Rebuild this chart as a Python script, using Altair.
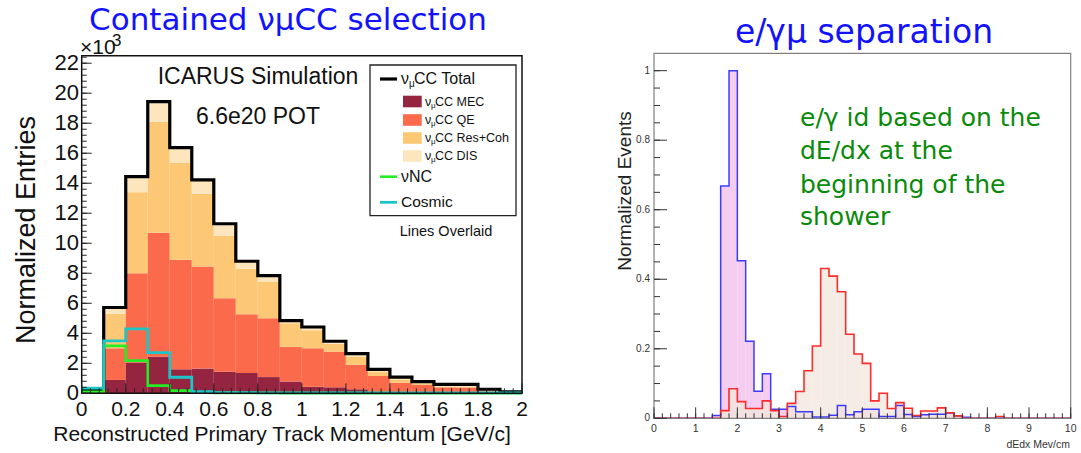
import altair as alt
import pandas as pd

# ---------------- data: left panel (x10^3 entries per 0.1 GeV/c bin) ----------------
p_lo = [0.0, 0.1, 0.2, 0.3, 0.4, 0.5, 0.6, 0.7, 0.8, 0.9,
        1.0, 1.1, 1.2, 1.3, 1.4, 1.5, 1.6, 1.7, 1.8, 1.9]
p_width = 0.1
mec = [0.05, 0.89, 2.05, 2.44, 1.60, 1.65, 1.44, 1.35, 1.08, 0.78,
       0.44, 0.40, 0.27, 0.05, 0.03, 0.02, 0.02, 0.01, 0.01, 0.00]
qe = [0.10, 2.11, 5.95, 8.26, 7.30, 6.80, 4.89, 3.92, 3.92, 2.33,
      2.56, 2.38, 1.63, 1.10, 0.67, 0.54, 0.38, 0.37, 0.12, 0.04]
res = [0.05, 2.30, 5.40, 7.40, 6.45, 4.85, 4.17, 3.03, 2.45, 1.56,
       1.20, 0.52, 0.55, 0.27, 0.22, 0.11, 0.05, 0.07, 0.07, 0.02]
dis = [0.05, 0.42, 1.04, 1.34, 1.03, 0.92, 0.80, 0.50, 0.39, 0.18,
       0.22, 0.17, 0.20, 0.18, 0.16, 0.11, 0.15, 0.15, 0.07, 0.03]
vnc = [0.10, 3.16, 2.18, 0.51, 0.18, 0.05, 0.03, 0.02, 0.02, 0.01,
       0.01, 0.01, 0.01, 0.01, 0.00, 0.00, 0.00, 0.00, 0.00, 0.00]
cosmic = [0.35, 3.49, 4.30, 2.71, 1.07, 0.11, 0.05, 0.04, 0.03, 0.03,
          0.03, 0.03, 0.03, 0.03, 0.03, 0.03, 0.03, 0.03, 0.03, 0.03]
comp_names = ["MEC", "QE", "Res+Coh", "DIS"]
comp_colors = ["#94243f", "#fb6b4b", "#fcc875", "#fde6bd"]

left_y_ticks = [0, 2, 4, 6, 8, 10, 12, 14, 16, 18, 20, 22]
left_y_labels = ["0", "2", "4", "6", "8", "10", "12", "14", "16", "18", "20", "22"]
left_x_ticks = [0, 0.2, 0.4, 0.6, 0.8, 1.0, 1.2, 1.4, 1.6, 1.8, 2.0]
left_x_labels = ["0", "0.2", "0.4", "0.6", "0.8", "1", "1.2", "1.4", "1.6", "1.8", "2"]

# ---------------- data: right panel (normalized events per 0.2 MeV/cm bin) ----------------
d_lo = [round(0.2 * i, 1) for i in range(50)]
d_width = 0.2
blue = [0, 0, 0, 0, 0, 0, 0, 0.008, 0.668, 1.0,
        0.453, 0.222, 0.078, 0.128, 0.026, 0.026, 0.034, 0.019, 0.019, 0.004,
        0.004, 0.009, 0.037, 0.010, 0.019, 0.026, 0.026, 0.005, 0.005, 0.037,
        0.011, 0.005, 0.010, 0.012, 0.012, 0.015, 0.007, 0.003, 0, 0,
        0, 0, 0, 0, 0, 0, 0, 0, 0, 0]
red = [0, 0, 0, 0, 0, 0, 0, 0, 0.022, 0.085,
       0.048, 0.028, 0.028, 0.050, 0.022, 0.005, 0.043, 0.077, 0.137, 0.208,
       0.431, 0.409, 0.364, 0.242, 0.185, 0.158, 0.050, 0.072, 0.028, 0.045,
       0.029, 0.008, 0.021, 0.021, 0.030, 0.016, 0.007, 0, 0, 0,
       0, 0.005, 0, 0, 0, 0, 0, 0, 0, 0]
right_y_ticks = [0, 0.2, 0.4, 0.6, 0.8, 1.0]
right_y_labels = ["0", "0.2", "0.4", "0.6", "0.8", "1"]
right_x_ticks = [0, 1, 2, 3, 4, 5, 6, 7, 8, 9, 10]
right_x_labels = ["0", "1", "2", "3", "4", "5", "6", "7", "8", "9", "10"]

# ---------------- layout (pixels) ----------------
LX0, LX1, LYB, LYT = 81.7, 522.0, 393.3, 55.7
RX0, RX1, RYB, RYT = 654.0, 1070.7, 418.3, 53.3
HELV = "Liberation Sans"
COMIC = "DejaVu Sans"

lxs = alt.Scale(domain=[0, 2], range=[LX0, LX1], nice=False, zero=False)
lys = alt.Scale(domain=[0, 22.5], range=[LYB, LYT], nice=False, zero=False)
rxs = alt.Scale(domain=[0, 10], range=[RX0, RX1], nice=False, zero=False)
rys = alt.Scale(domain=[0, 1.05], range=[RYB, RYT], nice=False, zero=False)

layers = []

# stacked rects (left)
rows = []
for i, lo in enumerate(p_lo):
    base = 0.0
    for name, vals in zip(comp_names, [mec, qe, res, dis]):
        rows.append({"lo": lo, "hi": lo + p_width, "y0": base, "y1": base + vals[i], "comp": name})
        base += vals[i]
stack_df = pd.DataFrame(rows)
layers.append(
    alt.Chart(stack_df).mark_rect().encode(
        x=alt.X("lo:Q", scale=lxs, axis=None), x2="hi:Q",
        y=alt.Y("y0:Q", scale=lys, axis=None), y2="y1:Q",
        color=alt.Color("comp:N", scale=alt.Scale(domain=comp_names, range=comp_colors), legend=None),
    )
)


def step_df(lo, width, vals):
    xs = list(lo) + [lo[-1] + width]
    ys = list(vals) + [vals[-1]]
    return pd.DataFrame({"x": xs, "v": ys})


def step_line(lo, width, vals, xs, ys, color, sw, dash=None):
    kw = dict(interpolate="step-after", color=color, strokeWidth=sw)
    if dash:
        kw["strokeDash"] = dash
    return alt.Chart(step_df(lo, width, vals)).mark_line(**kw).encode(
        x=alt.X("x:Q", scale=xs, axis=None), y=alt.Y("v:Q", scale=ys, axis=None))


total = [a + b + c + d for a, b, c, d in zip(mec, qe, res, dis)]
layers.append(step_line(p_lo, p_width, total, lxs, lys, "#000000", 3.2))
layers.append(step_line(p_lo, p_width, vnc, lxs, lys, "#22ee22", 2.6))
layers.append(step_line(p_lo, p_width, cosmic, lxs, lys, "#1cc6c6", 2.8))

# right panel fills
bdf = pd.DataFrame({"lo": d_lo, "hi": [x + d_width for x in d_lo], "v": blue, "z": [0] * 50})
rdf = pd.DataFrame({"lo": d_lo, "hi": [x + d_width for x in d_lo], "v": red, "z": [0] * 50})
layers.append(alt.Chart(bdf).mark_rect(color="#f5cdf0").encode(
    x=alt.X("lo:Q", scale=rxs, axis=None), x2="hi:Q",
    y=alt.Y("z:Q", scale=rys, axis=None), y2="v:Q"))
layers.append(alt.Chart(rdf).mark_rect(color="#f1e7dc", opacity=0.75).encode(
    x=alt.X("lo:Q", scale=rxs, axis=None), x2="hi:Q",
    y=alt.Y("z:Q", scale=rys, axis=None), y2="v:Q"))
layers.append(step_line(d_lo, d_width, blue, rxs, rys, "#3c3cff", 1.5))
layers.append(step_line(d_lo, d_width, red, rxs, rys, "#ff2a2a", 1.6))

# frames
layers.append(alt.Chart(pd.DataFrame({"a": [0], "b": [2], "c": [0], "d": [22.5]})).mark_rect(
    fill="transparent", stroke="#111111", strokeWidth=1.5).encode(
    x=alt.X("a:Q", scale=lxs, axis=None), x2="b:Q", y=alt.Y("c:Q", scale=lys, axis=None), y2="d:Q"))
layers.append(alt.Chart(pd.DataFrame({"a": [0], "b": [10], "c": [0], "d": [1.05]})).mark_rect(
    fill="transparent", stroke="#808080", strokeWidth=1.2).encode(
    x=alt.X("a:Q", scale=rxs, axis=None), x2="b:Q", y=alt.Y("c:Q", scale=rys, axis=None), y2="d:Q"))


# ticks
def yticks(vals, ys, x0, length, color, sw=1):
    return alt.Chart(pd.DataFrame({"v": vals})).mark_rule(color=color, strokeWidth=sw).encode(
        y=alt.Y("v:Q", scale=ys, axis=None), x=alt.value(x0), x2=alt.value(x0 + length))


def xticks(vals, xs, y0, length, color, sw=1):
    return alt.Chart(pd.DataFrame({"v": vals})).mark_rule(color=color, strokeWidth=sw).encode(
        x=alt.X("v:Q", scale=xs, axis=None), y=alt.value(y0), y2=alt.value(y0 - length))


left_y_minor = [round(0.4 * i, 1) for i in range(57)]
left_x_minor = [round(0.04 * i, 2) for i in range(51)]
right_y_minor = [round(0.05 * i, 2) for i in range(21)]
right_x_minor = [round(0.2 * i, 1) for i in range(51)]
layers.append(yticks(left_y_minor, lys, LX0, 5, "#222222"))
layers.append(yticks(left_y_ticks, lys, LX0, 10, "#222222"))
layers.append(xticks(left_x_minor, lxs, LYB, 5, "#222222"))
layers.append(xticks(left_x_ticks, lxs, LYB, 10, "#222222"))
layers.append(yticks(right_y_minor, rys, RX0, 6, "#333333"))
layers.append(yticks(right_y_ticks, rys, RX0, 13, "#333333"))
layers.append(xticks(right_x_minor, rxs, RYB, 5, "#333333"))
layers.append(xticks(right_x_ticks, rxs, RYB, 11, "#333333"))

# tick labels
layers.append(alt.Chart(pd.DataFrame({"v": left_y_ticks, "t": left_y_labels})).mark_text(
    font=HELV, fontSize=22, align="right", baseline="middle", color="#111111").encode(
    y=alt.Y("v:Q", scale=lys, axis=None), x=alt.value(79), text="t:N"))
layers.append(alt.Chart(pd.DataFrame({"v": left_x_ticks, "t": left_x_labels})).mark_text(
    font=HELV, fontSize=21, align="center", baseline="middle", color="#111111").encode(
    x=alt.X("v:Q", scale=lxs, axis=None), y=alt.value(410), text="t:N"))
layers.append(alt.Chart(pd.DataFrame({"v": right_y_ticks, "t": right_y_labels})).mark_text(
    font=HELV, fontSize=10, align="right", baseline="middle", color="#333333").encode(
    y=alt.Y("v:Q", scale=rys, axis=None), x=alt.value(650), text="t:N"))
layers.append(alt.Chart(pd.DataFrame({"v": right_x_ticks, "t": right_x_labels})).mark_text(
    font=HELV, fontSize=10.5, align="center", baseline="middle", color="#333333").encode(
    x=alt.X("v:Q", scale=rxs, axis=None), y=alt.value(429), text="t:N"))


def txt(t, x, y, size, color="#111111", font=HELV, align="left", baseline="middle", angle=0):
    return alt.Chart(pd.DataFrame({"t": [t]})).mark_text(
        font=font, fontSize=size, color=color, align=align, baseline=baseline, angle=angle).encode(
        x=alt.value(x), y=alt.value(y), text="t:N")


# titles and annotations
layers.append(txt("Contained νμCC selection", 288, 21, 31, "#1212ff", COMIC, "center"))
layers.append(txt("e/γμ separation", 864, 33, 33, "#1212ff", COMIC, "center"))
layers.append(txt("×10", 80, 48, 21))
layers.append(txt("3", 112, 41, 17))
layers.append(txt("Normalized Entries", 27, 230, 27, angle=270, align="center"))
layers.append(txt("Reconstructed Primary Track Momentum [GeV/c]", 282, 435, 21, align="center"))
layers.append(txt("ICARUS Simulation", 258, 77, 23, align="center"))
layers.append(txt("6.6e20 POT", 258, 117, 23, align="center"))
layers.append(txt("Normalized  Events", 625, 191, 19, "#222222", angle=270, align="center"))
layers.append(txt("dEdx Mev/cm", 1070, 445, 10.5, "#333333", align="right"))
green = "#0a8a0a"
for line, yy in zip(["e/γ id based on the", "dE/dx at the", "beginning of the", "shower"],
                    [118, 151, 185, 217]):
    layers.append(txt(line, 800, yy, 25, green, COMIC))

# legend box
layers.append(alt.Chart(pd.DataFrame({"a": [0]})).mark_rect(
    fill="white", stroke="#222222", strokeWidth=1.3).encode(
    x=alt.value(370), x2=alt.value(516), y=alt.value(65), y2=alt.value(215.7)))
for color, yy, sw in [("#000000", 79, 3.2), ("#22ee22", 176.7, 2.6), ("#1cc6c6", 202.3, 2.8)]:
    layers.append(alt.Chart(pd.DataFrame({"a": [0]})).mark_rule(color=color, strokeWidth=sw).encode(
        x=alt.value(380), x2=alt.value(397), y=alt.value(yy)))
layers.append(txt("ν", 401, 79, 16))
layers.append(txt("μ", 409, 84, 10))
layers.append(txt("CC Total", 414, 79, 16))
for name, col, yy in zip(["MEC", "QE", "Res+Coh", "DIS"], comp_colors, [101.5, 120, 138, 156]):
    layers.append(alt.Chart(pd.DataFrame({"a": [0]})).mark_rect(color=col).encode(
        x=alt.value(403), x2=alt.value(421.7), y=alt.value(yy - 5.8), y2=alt.value(yy + 5.8)))
    layers.append(txt("ν", 425, yy, 12.5))
    layers.append(txt("μ", 431, yy + 4, 8))
    layers.append(txt("CC " + name, 435, yy, 12.5))
layers.append(txt("νNC", 401, 176.7, 16))
layers.append(txt("Cosmic", 401, 202.3, 15.5))
layers.append(txt("Lines Overlaid", 446, 231.7, 14.5, align="center"))

chart = alt.layer(*layers).resolve_scale(
    x="independent", y="independent", color="independent"
).properties(
    width=1081, height=453, padding=0,
    autosize=alt.AutoSizeParams(type="none"), background="white"
).configure_view(stroke=None)

chart.save("out.html", embed_options={"renderer": "svg", "actions": False})
